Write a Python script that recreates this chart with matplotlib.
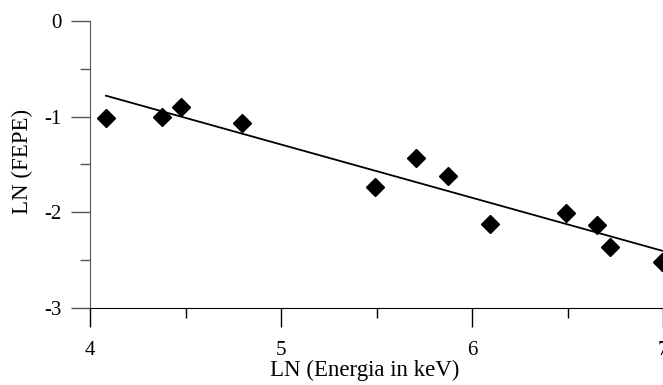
import matplotlib
matplotlib.use("Agg")
from matplotlib import pyplot as plt
from matplotlib.ticker import MultipleLocator

# measured points, LN of energy (keV) vs LN of full-energy peak efficiency
ln_energy = [4.085, 4.378, 4.474, 4.797, 5.494, 5.707, 5.872, 6.094, 6.491, 6.653, 6.723, 6.995]
ln_fepe = [-1.016, -1.000, -0.897, -1.064, -1.737, -1.434, -1.618, -2.125, -2.010, -2.136, -2.362, -2.516]

# fitted straight line, two ends
fit_x = [4.084, 7.0]
fit_y = [-0.781, -2.404]

plt.rcParams["font.family"] = ["Liberation Serif", "DejaVu Serif"]
plt.rcParams["axes.unicode_minus"] = False

fig = plt.figure(figsize=(6.63, 3.85), dpi=100)
ax = fig.add_axes([90 / 663, 77 / 385, 573 / 663, 287 / 385])

ax.plot(fit_x, fit_y, color="black", linewidth=1.3)
ax.plot(ln_energy, ln_fepe, linestyle="none", marker="D", markersize=9.5,
        color="black", clip_on=False)

ax.set_xlim(4, 7)
ax.set_ylim(-3, 0)
ax.xaxis.set_major_locator(MultipleLocator(1))
ax.xaxis.set_minor_locator(MultipleLocator(0.5))
ax.yaxis.set_major_locator(MultipleLocator(1))
ax.yaxis.set_minor_locator(MultipleLocator(0.5))

for side in ["top", "right"]:
    ax.spines[side].set_visible(False)
ax.spines["left"].set_color("#555555")
ax.spines["bottom"].set_color("black")

ax.tick_params(axis="both", which="major", direction="out", length=13.5, width=1, labelsize=15)
ax.tick_params(axis="both", which="minor", direction="out", length=7, width=1)
ax.tick_params(axis="x", which="major", pad=10)
ax.tick_params(axis="y", which="major", pad=7)
ax.tick_params(axis="y", which="both", color="#555555")

ax.set_xlabel("LN (Energia in keV)", fontsize=16.5)
ax.set_ylabel("LN (FEPE)", fontsize=16.5)
# label positions as they sit in the original
ax.xaxis.set_label_coords(0.48, -0.18, transform=ax.transAxes)
ax.yaxis.set_label_coords(-0.1, 0.512, transform=ax.transAxes)

fig.savefig("out.png", dpi=100)
